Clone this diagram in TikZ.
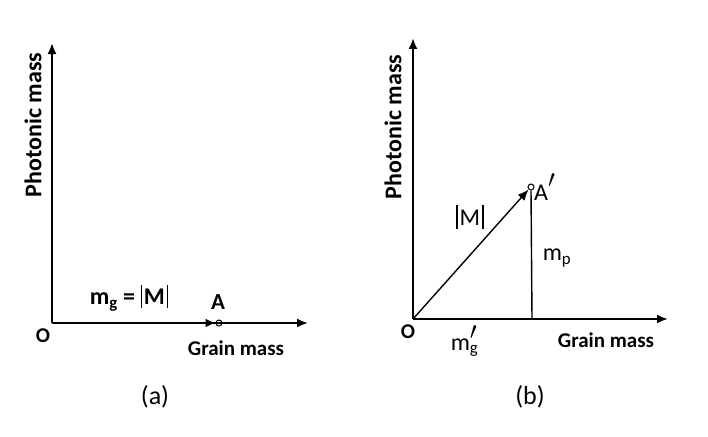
\documentclass[tikz,border=0pt]{standalone}
\usepackage{fontspec}
\setmainfont{Carlito}
\usetikzlibrary{arrows.meta}
\newcommand{\myprime}{\ensuremath{\prime}}
\newcommand{\vbar}{\rule[-0.14em]{0.06em}{0.98em}}
\begin{document}
\begin{tikzpicture}[x=1pt,y=-1pt,
  axis/.style={line width=2pt,-{Latex[length=11pt,width=9pt]}},
  vec/.style={line width=1.4pt,-{Latex[length=11pt,width=9pt]}},
  lbl/.style={font=\fontsize{21}{23}\selectfont\bfseries,inner sep=0pt},
  plbl/.style={font=\fontsize{24}{26}\selectfont\bfseries,inner sep=0pt,rotate=90},
  mlbl/.style={font=\fontsize{24}{26}\selectfont,inner sep=0pt},
  captxt/.style={font=\fontsize{26}{28}\selectfont,inner sep=0pt},
  pt/.style={circle,draw,line width=1pt,inner sep=0pt,minimum size=6pt}]
\useasboundingbox (0,0) rectangle (708,436);
% panel (a)
\coordinate (Oa) at (52,323);
\coordinate (Ya) at (52,43);
\coordinate (Xa) at (308,323);
\node[pt] (A) at (219,323) {};
\draw[axis] (Oa) -- (Ya);
\draw[axis] (Oa) -- (Xa);
\draw[line width=2.6pt,-{Latex[length=10pt,width=9pt]}] (Oa) -- (A.west);
\node[lbl] (Ola) at (43,336) {O};
\node[lbl,font=\fontsize{23}{25}\selectfont\bfseries] (Ala) at (218,302) {A};
\node[lbl] (gma) at (236,348) {Grain mass};
\node[plbl] (pma) at (33,125) {Photonic mass};
\node[mlbl,font=\fontsize{24}{26}\selectfont\bfseries] (mga) at (129,298) {m\textsubscript{g} = \vbar\kern0.08em M\kern0.08em\vbar};
\node[captxt] (la) at (155,397) {(a)};
% panel (b)
\coordinate (Ob) at (413,319);
\coordinate (Yb) at (413,38);
\coordinate (Xb) at (668,319);
\coordinate (Fb) at (532,319);
\node[pt] (Ap) at (531,187) {};
\draw[axis] (Ob) -- (Yb);
\draw[axis] (Ob) -- (Xb);
\draw[line width=1.4pt] (Fb) -- (Ap.south);
\draw[vec] (Ob) -- (Ap.south west);
\node[mlbl,anchor=west] (Apl) at (534,187) {A\raisebox{0.55em}{\myprime}};
\node[lbl] (Olb) at (408,332) {O};
\node[mlbl] (Ml) at (470,217) {\vbar\kern0.08em M\kern0.08em\vbar};
\node[mlbl] (mg) at (468,341) {m\rlap{\textsubscript{g}}\raisebox{0.45em}{\myprime}\hphantom{\textsubscript{g}}};
\node[mlbl] (mp) at (557,258) {m\textsubscript{p}};
\node[lbl] (gmb) at (606,340) {Grain mass};
\node[plbl] (pmb) at (393,127) {Photonic mass};
\node[captxt] (lb) at (530,397) {(b)};
\end{tikzpicture}
\end{document}
